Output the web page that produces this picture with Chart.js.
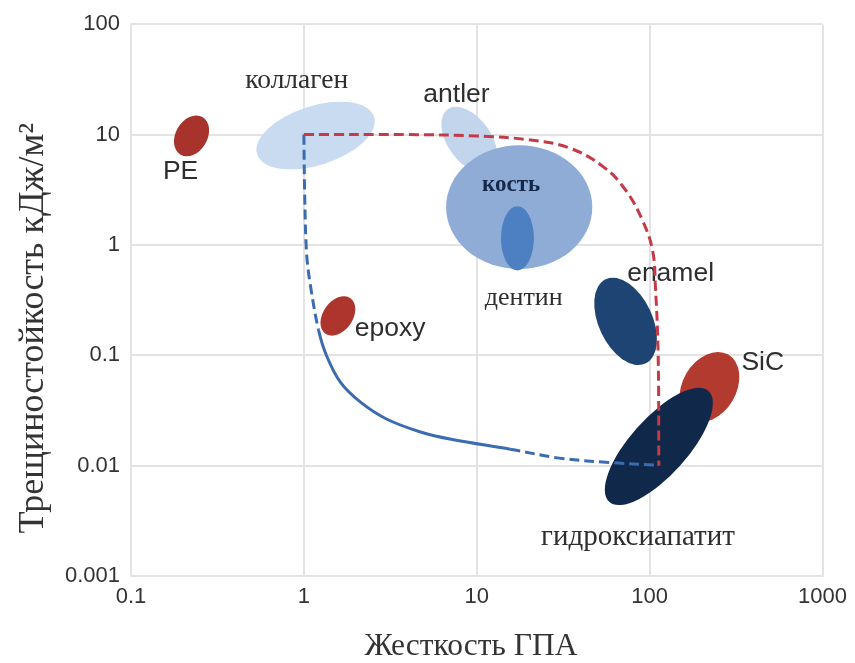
<!DOCTYPE html>
<html lang="ru">
<head>
<meta charset="utf-8">
<title>Трещиностойкость и жесткость материалов</title>
<script src="https://cdn.jsdelivr.net/npm/chart.js@4.4.1/dist/chart.umd.min.js"></script>
<style>
    html, body { margin: 0; padding: 0; background: #ffffff; }
    #wrap { width: 855px; height: 663px; }
</style>
</head>
<body>
<div id="wrap"><canvas id="materialChart" width="855" height="663"></canvas></div>
<script>
// Деления осей (логарифмические, только декады)
const xTicks = [0.1, 1, 10, 100, 1000];
const xTickLabels = ['0.1', '1', '10', '100', '1000'];
const yTicks = [0.001, 0.01, 0.1, 1, 10, 100];
const yTickLabels = ['0.001', '0.01', '0.1', '1', '10', '100'];

// Верхняя граница (красный пунктир)
const upperX = [1, 4, 10, 19.5, 34, 54, 73, 91, 104, 108, 112, 113];
const upperY = [10, 10, 9.7, 9.0, 7.6, 5.1, 3.1, 1.66, 0.89, 0.42, 0.1, 0.01];

// Нижняя граница (синяя линия)
const lowerX = [1, 1.01, 1.037, 1.093, 1.215, 1.351, 1.625, 2.118, 2.985, 4.677, 7.23, 15.6, 30, 58, 113];
const lowerY = [10, 3, 0.834, 0.422, 0.17, 0.0996, 0.0571, 0.0378, 0.0266, 0.0203, 0.01724, 0.0141, 0.0117, 0.0107, 0.0101];

// Области материалов: центр и концы двух полуосей эллипса, в единицах осей
const materials = ['PE', 'коллаген', 'antler', 'кость', 'дентин', 'epoxy', 'enamel', 'SiC', 'гидроксиапатит'];
const centerX = [0.224, 1.168, 9.06, 17.6, 17.19, 1.573, 72.6, 221.7, 113.0];
const centerY = [9.715, 9.8, 8.94, 2.2, 1.148, 0.2273, 0.2029, 0.0515, 0.01492];
const axisAX = [0.259, 2.545, 12.08, 46.6, 21.4, 1.857, 94.5, 284.9, 218.8];
const axisAY = [14.39, 14.5, 4.71, 2.2, 1.148, 0.3295, 0.0842, 0.1015, 0.0474];
const axisBX = [0.2691, 1.32, 7.14, 17.6, 17.19, 1.850, 52.5, 302.2, 150.3];
const axisBY = [8.238, 5.45, 6.90, 8.0, 2.245, 0.1904, 0.1603, 0.0390, 0.01002];

// Цвета областей
const regionColors = {
    'PE': '#a8322c',
    'коллаген': '#c8dbf0',
    'antler': '#c2d5ec',
    'кость': '#8eacd6',
    'дентин': '#4d80c2',
    'epoxy': '#ad352d',
    'enamel': '#1e4474',
    'SiC': '#b23a2f',
    'гидроксиапатит': '#10284a'
};

// Подписи областей: точка привязки (центр по x, базовая линия по y) и шрифт
const sansFont = '26.5px "Liberation Sans", Arial, sans-serif';
const serif = '"Liberation Serif", "Times New Roman", serif';
const regionLabels = [
    { text: 'PE', x: 0.1936, y: 3.92, font: sansFont, color: '#2e2e2e' },
    { text: 'коллаген', x: 0.909, y: 26.2, font: '27.5px ' + serif, color: '#2e2e2e' },
    { text: 'antler', x: 7.63, y: 19.6, font: sansFont, color: '#2e2e2e' },
    { text: 'кость', x: 15.8, y: 3.06, font: 'bold 23px ' + serif, color: '#16284a' },
    { text: 'дентин', x: 18.7, y: 0.285, font: '26px ' + serif, color: '#2e2e2e' },
    { text: 'epoxy', x: 3.15, y: 0.1504, font: sansFont, color: '#2e2e2e' },
    { text: 'enamel', x: 132.2, y: 0.468, font: sansFont, color: '#2e2e2e' },
    { text: 'SiC', x: 451, y: 0.0731, font: sansFont, color: '#2e2e2e' },
    { text: 'гидроксиапатит', x: 85.6, y: 0.001896, font: '29px ' + serif, color: '#2e2e2e' }
];

let materialChart;

// Строит набор точек {x, y} из двух массивов
function toPoints(xs, ys) {
    return xs.map((v, i) => ({ x: v, y: ys[i] }));
}

// Рисует эллипсы материалов и их подписи под линиями границ
const regionsPlugin = {
    id: 'materialRegions',
    beforeDatasetsDraw(chart) {
        const { ctx, chartArea, scales: { x, y } } = chart;
        ctx.save();
        ctx.beginPath();
        ctx.rect(chartArea.left, chartArea.top, chartArea.width, chartArea.height);
        ctx.clip();

        materials.forEach((name, i) => {
            const cx = x.getPixelForValue(centerX[i]);
            const cy = y.getPixelForValue(centerY[i]);
            const ax = x.getPixelForValue(axisAX[i]) - cx;
            const ay = y.getPixelForValue(axisAY[i]) - cy;
            const bx = x.getPixelForValue(axisBX[i]) - cx;
            const by = y.getPixelForValue(axisBY[i]) - cy;
            ctx.save();
            ctx.transform(ax, ay, bx, by, cx, cy);
            ctx.beginPath();
            ctx.arc(0, 0, 1, 0, Math.PI * 2);
            ctx.restore();
            ctx.fillStyle = regionColors[name];
            ctx.fill();
        });

        ctx.textAlign = 'center';
        ctx.textBaseline = 'alphabetic';
        regionLabels.forEach(l => {
            ctx.font = l.font;
            ctx.fillStyle = l.color;
            ctx.fillText(l.text, x.getPixelForValue(l.x), y.getPixelForValue(l.y));
        });
        ctx.restore();
    },
    afterDraw(chart) {
        // Подписи осей
        const { ctx, chartArea } = chart;
        ctx.save();
        ctx.fillStyle = '#333333';
        ctx.textAlign = 'center';
        ctx.textBaseline = 'alphabetic';
        ctx.font = '31.5px ' + serif;
        ctx.fillText('Жесткость ГПА', chartArea.left + 340, 655);
        ctx.translate(43, chartArea.top + 304);
        ctx.rotate(-Math.PI / 2);
        ctx.font = '36px ' + serif;
        ctx.fillText('Трещиностойкость кДж/м²', 0, 0);
        ctx.restore();
    }
};

function initializeChart() {
    const ctx = document.getElementById('materialChart').getContext('2d');
    const gridColor = '#e3e3e6';
    const tickFont = { family: '"Liberation Sans", Arial, sans-serif', size: 22 };

    materialChart = new Chart(ctx, {
        type: 'scatter',
        data: {
            datasets: [{
                label: 'верхняя граница',
                data: toPoints(upperX, upperY),
                showLine: true,
                borderColor: '#c63a48',
                borderWidth: 3,
                borderDash: [10, 5],
                pointRadius: 0,
                tension: 0.4
            }, {
                label: 'нижняя граница',
                data: toPoints(lowerX, lowerY),
                showLine: true,
                borderColor: '#3b6cb1',
                borderWidth: 3,
                borderDash: [10, 5],
                pointRadius: 0,
                tension: 0.35,
                // средний участок кривой сплошной
                segment: {
                    borderDash: c => (c.p0.parsed.y < 0.4 && c.p1.parsed.x < 16) ? [] : [10, 5]
                }
            }]
        },
        options: {
            responsive: false,
            animation: false,
            devicePixelRatio: 1,
            layout: { padding: { left: 0, top: 18, right: 27, bottom: 0 } },
            plugins: {
                legend: { display: false },
                tooltip: { enabled: false }
            },
            scales: {
                x: {
                    type: 'logarithmic',
                    min: 0.1,
                    max: 1000,
                    afterBuildTicks: s => { s.ticks = xTicks.map(v => ({ value: v })); },
                    afterFit: s => { s.height = 87; },
                    ticks: {
                        autoSkip: false,
                        maxRotation: 0,
                        padding: 8,
                        color: '#333333',
                        font: tickFont,
                        callback: v => xTickLabels[xTicks.indexOf(v)] ?? ''
                    },
                    grid: { color: gridColor, lineWidth: 2, drawTicks: false },
                    border: { color: gridColor, width: 2 }
                },
                y: {
                    type: 'logarithmic',
                    min: 0.001,
                    max: 100,
                    afterBuildTicks: s => { s.ticks = yTicks.map(v => ({ value: v })); },
                    afterFit: s => { s.width = 131; },
                    ticks: {
                        autoSkip: false,
                        padding: 11,
                        color: '#333333',
                        font: tickFont,
                        callback: v => yTickLabels[yTicks.indexOf(v)] ?? ''
                    },
                    grid: { color: gridColor, lineWidth: 2, drawTicks: false },
                    border: { color: gridColor, width: 2 }
                }
            }
        },
        plugins: [regionsPlugin]
    });
}

window.onload = function() {
    initializeChart();
};
</script>
</body>
</html>
